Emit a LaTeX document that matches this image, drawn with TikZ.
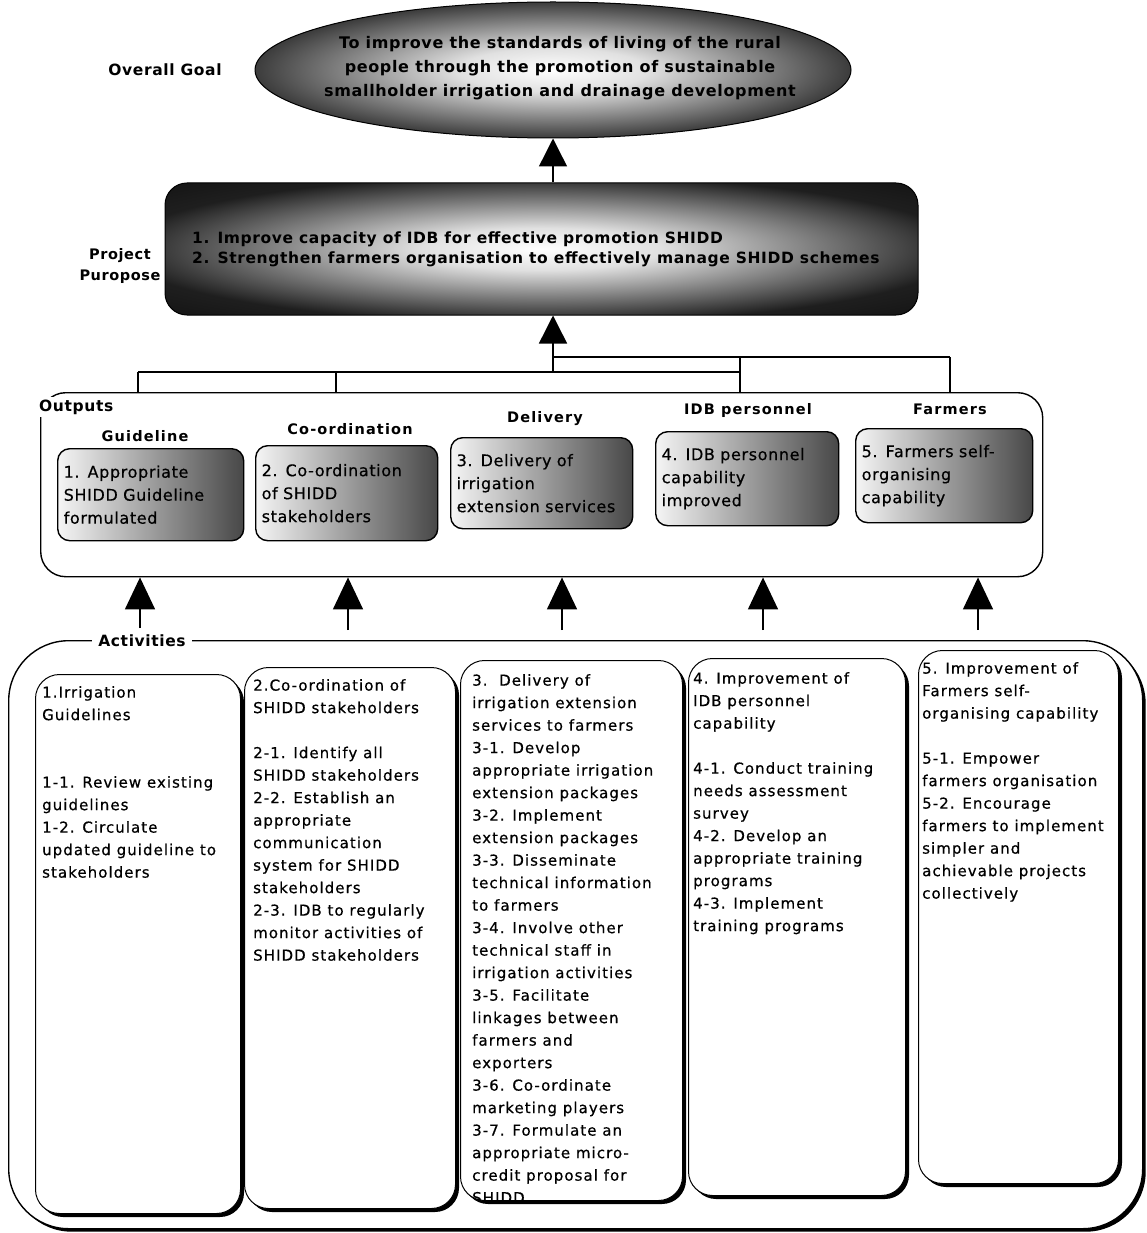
\documentclass[tikz,border=0pt]{standalone}
\usepackage{fontspec}
\setmainfont{DejaVu Sans}
\newfontfamily\spfont[LetterSpace=8]{DejaVu Sans}
\newfontfamily\colfont[LetterSpace=7,FakeBold=0.6]{DejaVu Sans}
\newfontfamily\outfont[LetterSpace=4,FakeBold=0.5]{DejaVu Sans}
\newfontfamily\wfont[LetterSpace=4]{DejaVu Sans}
\usetikzlibrary{arrows.meta,shapes.geometric,shadows}
\pgfdeclareradialshading{glow}{\pgfpoint{0bp}{0bp}}{color(0bp)=(white); color(8bp)=(black!12); color(18bp)=(black!50); color(28bp)=(black!88); color(50bp)=(black)}
\begin{document}
\begin{tikzpicture}[x=1pt,y=-1pt,
  hdr/.style={font=\wfont\bfseries\fontsize{15.5}{22}\selectfont, inner sep=1pt, align=center},
  cat/.style={font=\spfont\bfseries\fontsize{14.5}{18}\selectfont, inner sep=1pt},
  obox/.style={draw, line width=1.4pt, rounded corners=12pt, left color=black!4, right color=black!72, anchor=north west, align=left, inner xsep=6pt, font=\outfont\fontsize{16}{23}\selectfont},
  col/.style={draw, line width=1pt, fill=white, rounded corners=24pt, anchor=north west, drop shadow={shadow xshift=3.5pt, shadow yshift=-3.5pt, fill=black, opacity=1}},
  coltext/.style={anchor=north west, align=left, inner sep=0pt, font=\colfont\fontsize{15}{22.5}\selectfont},
  big/.style={line width=1.4pt, -{Triangle[width=30pt,length=32pt]}},
  tree/.style={line width=1.2pt}
]
\useasboundingbox[fill=white] (0,0) rectangle (1147,1233);

% Overall goal
\node[hdr] (goallbl) at (165,70) {Overall Goal};
\node[ellipse, draw, line width=1pt, shade, shading=glow, minimum width=596pt, minimum height=136pt] (goal) at (553,70) {};
\node[hdr, font=\wfont\bfseries\fontsize{16}{24}\selectfont] (goaltext) at (560,68) {To improve the standards of living of the rural\\people through the promotion of sustainable\\smallholder irrigation and drainage development};

% Project purpose
\node[hdr, font=\wfont\bfseries\fontsize{14.5}{21}\selectfont] (pplbl) at (120,266) {Project\\Puropose};
\node[draw, line width=1pt, rounded corners=22pt, shade, shading=glow, minimum width=753pt, minimum height=132pt] (pp) at (541.5,249) {};
\node[anchor=west, align=left, inner sep=0pt, font=\wfont\bfseries\fontsize{15.5}{20}\selectfont] (pptext) at (192,249) {1. Improve capacity of IDB for effective promotion SHIDD\\2. Strengthen farmers organisation to effectively manage SHIDD schemes};

\draw[line width=1.4pt, -{Triangle[width=28pt,length=28pt]}] (goal.south |- pp.north) -- (goal.south);

% Outputs
\node[draw, line width=1.4pt, rounded corners=25pt, minimum width=1002pt, minimum height=184pt, anchor=north west] (outputs) at (40,392) {};
\node[hdr, fill=white, inner sep=3pt, anchor=west] (outlbl) at (36,407) {Outputs};

% tree
\coordinate (junc) at (553,372);
\coordinate (up) at (553,357);
\coordinate (tl) at (138,372);
\coordinate (tc) at (336,372);
\coordinate (tm) at (740,372);
\coordinate (tu) at (740,357);
\coordinate (tr) at (950,357);
\draw[tree] (tl) -- (tm);
\draw[tree] (up) -- (tr);
\draw[tree] (tl) -- (tl |- outputs.north);
\draw[tree] (tc) -- (tc |- outputs.north);
\draw[tree] (tu) -- (tu |- outputs.north);
\draw[tree] (tr) -- (tr |- outputs.north);
\draw[line width=1.4pt, -{Triangle[width=28pt,length=28pt]}] (junc) -- (junc |- pp.south);

\node[cat] (c1) at (145,436) {Guideline};
\node[cat] (c2) at (350,429) {Co-ordination};
\node[cat] (c3) at (545,419) {Delivery};
\node[cat] (c4) at (748,410) {IDB personnel};
\node[cat] (c5) at (950,409) {Farmers};

\node[obox, minimum width=186pt, minimum height=92pt, text width=174pt] (o1) at (57,448) {1. Appropriate\\SHIDD Guideline\\formulated};
\node[obox, minimum width=182pt, minimum height=95pt, text width=170pt] (o2) at (255,445) {2. Co-ordination\\of SHIDD\\stakeholders};
\node[obox, minimum width=182pt, minimum height=91pt, text width=170pt] (o3) at (450,437) {3. Delivery of\\irrigation\\extension services};
\node[obox, minimum width=183pt, minimum height=94pt, text width=171pt] (o4) at (655,431) {4. IDB personnel\\capability\\improved};
\node[obox, minimum width=177pt, minimum height=94pt, text width=165pt] (o5) at (855,428) {5. Farmers self-\\organising\\capability};

% Activities
\node[draw, line width=1.4pt, rounded corners=60pt, minimum width=1134pt, minimum height=588pt, anchor=north west, drop shadow={shadow xshift=3pt, shadow yshift=-3pt, fill=black, opacity=1}, fill=white] (acts) at (8,640) {};
\node[hdr, fill=white, inner xsep=6pt] (actlbl) at (142,641) {Activities};

\coordinate (s1) at (140,628);
\coordinate (s2) at (348,630);
\coordinate (s3) at (562,630);
\coordinate (s4) at (763,630);
\coordinate (s5) at (978,630);
\foreach \i in {1,...,5} {\draw[big] (s\i) -- (s\i |- outputs.south);}

\node[col, minimum width=205pt, minimum height=539pt] (a1) at (35,674) {};
\node[col, minimum width=211pt, minimum height=541pt] (a2) at (244,667) {};
\node[col, minimum width=222pt, minimum height=540pt] (a3) at (460,660) {};
\node[col, minimum width=217pt, minimum height=537pt] (a4) at (688,658) {};
\node[col, minimum width=200pt, minimum height=533pt] (a5) at (918,650) {};

\node[coltext] (t1) at (42,686) {1.Irrigation\\Guidelines\\[45pt]1-1. Review existing\\guidelines\\1-2. Circulate\\updated guideline to\\stakeholders};
\node[coltext] (t2) at (253,679) {2.Co-ordination of\\SHIDD stakeholders\\[22.5pt]2-1. Identify all\\SHIDD stakeholders\\2-2. Establish an\\appropriate\\communication\\system for SHIDD\\stakeholders\\2-3. IDB to regularly\\monitor activities of\\SHIDD stakeholders};
\begin{scope}
\clip[rounded corners=24pt] (a3.north west) rectangle (a3.south east);
\node[coltext] (t3) at (472,674) {3.~~Delivery of\\irrigation extension\\services to farmers\\3-1. Develop\\appropriate irrigation\\extension packages\\3-2. Implement\\extension packages\\3-3. Disseminate\\technical information\\to farmers\\3-4. Involve other\\technical staff in\\irrigation activities\\3-5. Facilitate\\linkages between\\farmers and\\exporters\\3-6. Co-ordinate\\marketing players\\3-7. Formulate an\\appropriate micro-\\credit proposal for\\SHIDD};
\end{scope}
\node[coltext] (t4) at (693,672) {4. Improvement of\\IDB personnel\\capability\\[22.5pt]4-1. Conduct training\\needs assessment\\survey\\4-2. Develop an\\appropriate training\\programs\\4-3. Implement\\training programs};
\node[coltext] (t5) at (922,662) {5. Improvement of\\Farmers self-\\organising capability\\[22.5pt]5-1. Empower\\farmers organisation\\5-2. Encourage\\farmers to implement\\simpler and\\achievable projects\\collectively};
\end{tikzpicture}
\end{document}
